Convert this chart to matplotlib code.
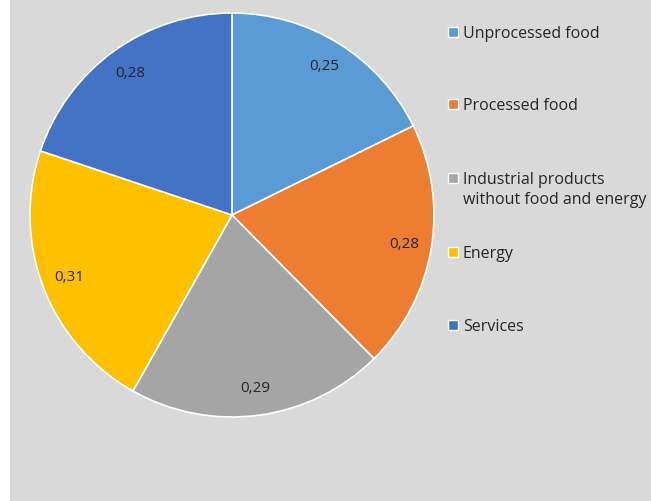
import matplotlib
matplotlib.use("Agg")
import matplotlib.pyplot as plt
from matplotlib.patches import Rectangle

categories = ["Unprocessed food", "Processed food", "Industrial products\nwithout food and energy", "Energy", "Services"]
values = [0.25, 0.28, 0.29, 0.31, 0.28]
value_labels = ["0,25", "0,28", "0,29", "0,31", "0,28"]
colors = ["#5B9BD5", "#ED7D31", "#A5A5A5", "#FFC000", "#4472C4"]

plt.rcParams['font.family'] = ['Open Sans', 'DejaVu Sans']

W, H = 651, 501
fig = plt.figure(figsize=(W / 100, H / 100), dpi=100)
fig.patch.set_facecolor("white")
# gray chart area
bg = Rectangle((10 / W, 0), 1 - 10 / W, 1, transform=fig.transFigure,
               facecolor="#D9D9D9", edgecolor="none", zorder=-5)
fig.patches.append(bg)

cx, cy, r = 232, 215, 202
ax = fig.add_axes([(cx - r) / W, (H - cy - r) / H, 2 * r / W, 2 * r / H])
ax.set_zorder(2)
ax.set_facecolor("none")
wedges, texts = ax.pie(values, colors=colors, startangle=90, counterclock=False,
                       labels=value_labels, labeldistance=0.865,
                       wedgeprops=dict(edgecolor="white", linewidth=1.2),
                       textprops=dict(fontsize=11, color="#262626"))
for t in texts:
    t.set_ha("center")
    t.set_va("center")
ax.set_xlim(-1, 1)
ax.set_ylim(-1, 1)
ax.set_aspect("auto")
ax.axis("off")

# legend
ys = [32, 104, 178, 252, 325]
for cat, col, y in zip(categories, colors, ys):
    fig.patches.append(Rectangle((448 / W, 1 - (y + 5) / H), 10 / W, 10 / H,
                                 transform=fig.transFigure, facecolor=col,
                                 edgecolor="white", linewidth=1.0, zorder=3))
    fig.text(463 / W, 1 - (y - 6) / H, cat, fontsize=11.5, color="#262626",
             ha="left", va="top", linespacing=1.35)

fig.savefig("out.png", dpi=100)
